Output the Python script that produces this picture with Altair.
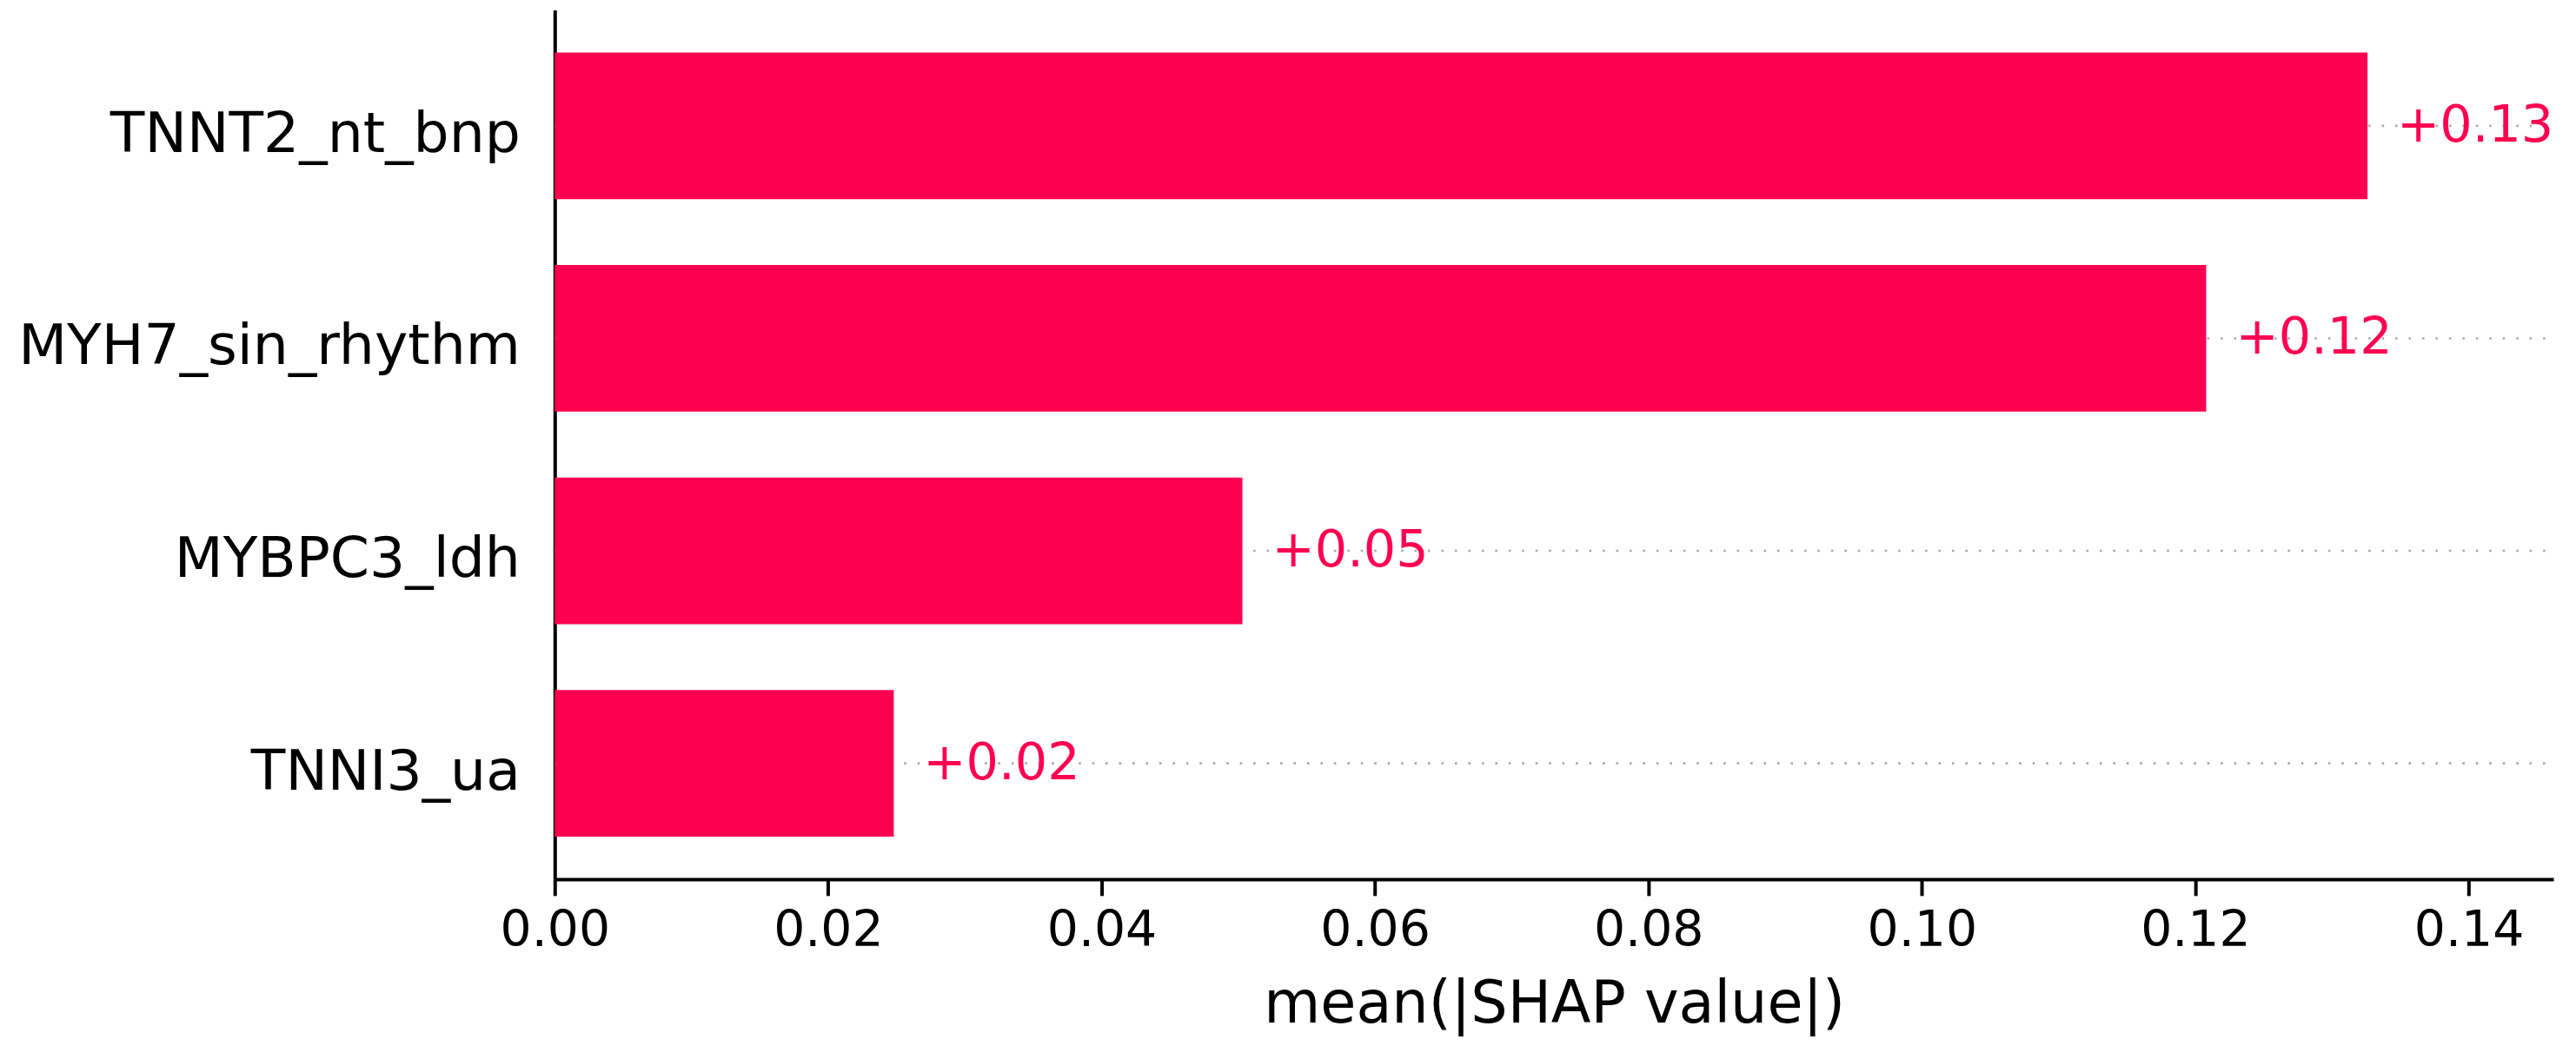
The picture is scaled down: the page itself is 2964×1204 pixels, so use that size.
import altair as alt
import pandas as pd

# ---- data ----
features = ["TNNT2_nt_bnp", "MYH7_sin_rhythm", "MYBPC3_ldh", "TNNI3_ua"]
mean_abs_shap = [0.1326, 0.1208, 0.0503, 0.0248]
tick_values = [0.00, 0.02, 0.04, 0.06, 0.08, 0.10, 0.12, 0.14]
x_max = 0.1462
axis_title = "mean(|SHAP value|)"

RED = "#ff0051"
FONT = "DejaVu Sans"

df = pd.DataFrame({"feature": features, "value": mean_abs_shap})

y_scale = alt.Scale(paddingInner=0.31, paddingOuter=0.2)
y_axis = alt.Axis(
    title=None,
    ticks=False,
    tickSize=0,
    domain=True,
    domainColor="black",
    domainWidth=4,
    grid=False,
    labelFont=FONT,
    labelFontSize=65,
    labelColor="black",
    labelPadding=40,
    labelBaseline="alphabetic",
    labelOffset=30,
    labelLimit=0,
)

x_scale = alt.Scale(domain=[0, x_max], nice=False, zero=True)
x_axis = alt.Axis(
    values=tick_values,
    format=".2f",
    grid=False,
    domain=True,
    domainColor="black",
    domainWidth=4,
    ticks=True,
    tickSize=19,
    tickWidth=4,
    tickColor="black",
    labelFont=FONT,
    labelFontSize=57,
    labelColor="black",
    labelPadding=13,
    labelFlush=False,
    title=axis_title,
    titleFont=FONT,
    titleFontSize=67,
    titleFontWeight="normal",
    titleColor="black",
    titlePadding=24,
)

grid = alt.Chart(df).mark_rule(
    color="#aaaaaa", strokeWidth=2.6, strokeDash=[2.6, 12.9]
).encode(
    x=alt.X("gx0:Q", scale=x_scale, axis=x_axis),
    x2=alt.datum(x_max),
    y=alt.Y("feature:N", sort=features, bandPosition=0.5, scale=y_scale, axis=y_axis),
).transform_calculate(gx0="0")

bars = alt.Chart(df).mark_bar(color=RED).encode(
    x=alt.X("value:Q", scale=x_scale, axis=x_axis),
    y=alt.Y("feature:N", sort=features, scale=y_scale, axis=y_axis),
)

labels = alt.Chart(df).mark_text(
    align="left", baseline="alphabetic", dx=34, dy=18,
    font=FONT, fontSize=59, color=RED,
).encode(
    x=alt.X("value:Q", scale=x_scale, axis=x_axis),
    y=alt.Y("feature:N", sort=features, scale=y_scale, axis=y_axis),
    text=alt.Text("value:Q", format="+.2f"),
)

chart = alt.layer(grid, bars, labels).properties(
    width=2306,
    height=1003,
    autosize=alt.AutoSizeParams(type="none"),
    padding={"left": 632, "top": 2, "right": 18, "bottom": 183},
    background="white",
).configure_view(stroke=None)

chart.save("out.html", embed_options={"renderer": "svg", "actions": False})
